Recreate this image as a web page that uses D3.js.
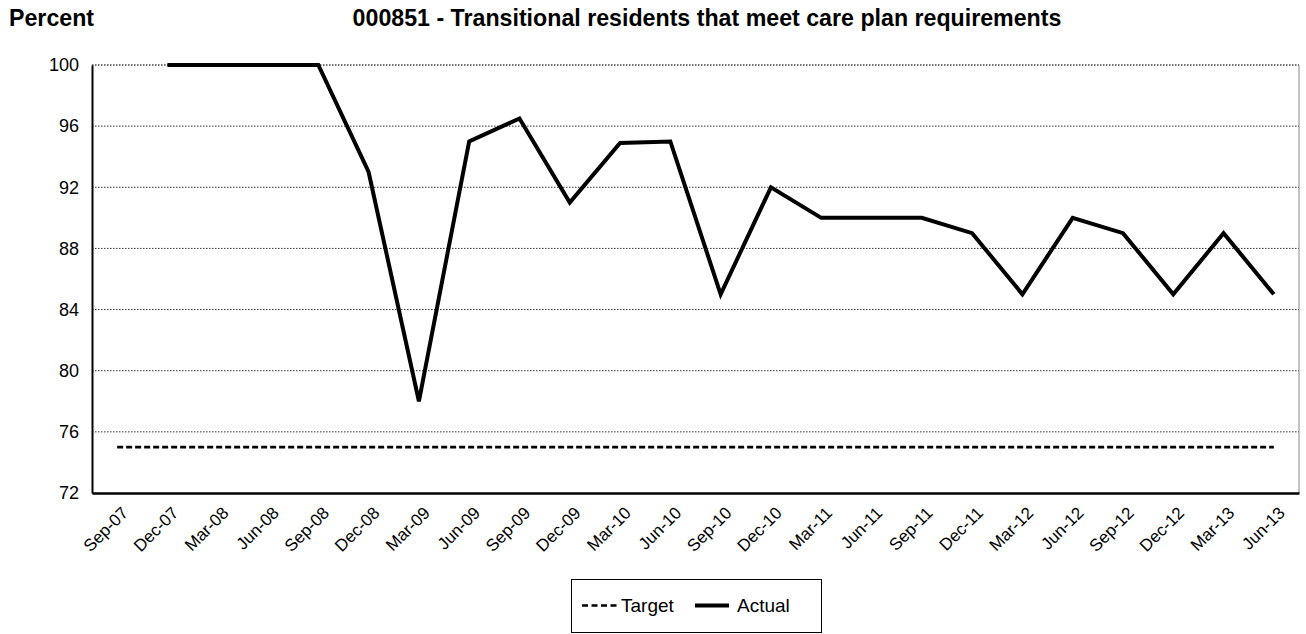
<!DOCTYPE html>
<html>
<head>
<meta charset="utf-8">
<script src="https://cdn.jsdelivr.net/npm/d3@7"></script>
<style>
body{margin:0;background:#fff;}
svg{display:block;font-family:Arial,"Liberation Sans",sans-serif;}
</style>
</head>
<body>
<svg id="chart" width="1306" height="634"></svg>
<script>
const categories = ["Sep-07","Dec-07","Mar-08","Jun-08","Sep-08","Dec-08","Mar-09","Jun-09","Sep-09","Dec-09","Mar-10","Jun-10","Sep-10","Dec-10","Mar-11","Jun-11","Sep-11","Dec-11","Mar-12","Jun-12","Sep-12","Dec-12","Mar-13","Jun-13"];
const actual = [null,100,100,100,100,93,78,95,96.5,91,94.9,95,85,92,90,90,90,89,85,90,89,85,89,85];
const target = [75,75,75,75,75,75,75,75,75,75,75,75,75,75,75,75,75,75,75,75,75,75,75,75];
const yTicks = [72,76,80,84,88,92,96,100];

const FONT = "Arial, 'Liberation Sans', sans-serif";
const svg = d3.select("#chart");
const m = {left:92, right:1299, top:65, bottom:493};

const x = d3.scaleBand().domain(categories).range([m.left, m.right]);
const y = d3.scaleLinear().domain([72,100]).range([m.bottom, m.top]);
const cx = d => x(d) + x.bandwidth()/2;

// gridlines
svg.append("g").selectAll("line").data(yTicks.filter(t=>t>72)).join("line")
  .attr("x1", m.left).attr("x2", m.right)
  .attr("y1", d=>y(d)).attr("y2", d=>y(d))
  .attr("stroke", d=> d===100 ? "#444" : "#333")
  .attr("stroke-width", d=> d===100 ? 1.5 : 1)
  .attr("stroke-dasharray", "1.5,1.5");

// right border
svg.append("line").attr("x1", m.right).attr("x2", m.right).attr("y1", m.top).attr("y2", m.bottom)
  .attr("stroke", "#888").attr("stroke-width", 1);

// y axis
const yAxis = d3.axisLeft(y).tickValues(yTicks).tickSize(0).tickPadding(13).tickFormat(d3.format("d"));
const gy = svg.append("g").attr("transform", `translate(${m.left},0)`).call(yAxis);
gy.select(".domain").attr("stroke","#000").attr("stroke-width",2);
gy.selectAll("text").attr("font-size",18).attr("fill","#000").attr("font-family",FONT);

// x axis
const xAxis = d3.axisBottom(x).tickSize(0).tickPadding(0);
const gx = svg.append("g").attr("transform", `translate(0,${m.bottom})`).call(xAxis);
gx.select(".domain").attr("stroke","#000").attr("stroke-width",2.5);
gx.selectAll("text")
  .attr("font-size",17).attr("fill","#000").attr("font-family",FONT)
  .attr("text-anchor","end").attr("dy",null).attr("y",0)
  .attr("transform","translate(12,21) rotate(-45)");

// target line
const lineT = d3.line().x((d,i)=>cx(categories[i])).y(d=>y(d));
svg.append("path").datum(target).attr("d", lineT)
  .attr("fill","none").attr("stroke","#000").attr("stroke-width",2.7).attr("stroke-dasharray","6,3");

// actual line
const lineA = d3.line().defined(d=>d!==null).x((d,i)=>cx(categories[i])).y(d=>y(d));
svg.append("path").datum(actual).attr("d", lineA)
  .attr("fill","none").attr("stroke","#000").attr("stroke-width",4).attr("stroke-linejoin","miter");

// titles
svg.append("text").attr("x",9).attr("y",26).text("Percent")
  .attr("font-size",23.2).attr("font-weight","bold");
svg.append("text").attr("x",707).attr("y",26).attr("text-anchor","middle")
  .text("000851 - Transitional residents that meet care plan requirements")
  .attr("font-size",23.2).attr("font-weight","bold");

// legend
const lg = svg.append("g");
lg.append("rect").attr("x",571.5).attr("y",579.5).attr("width",250).attr("height",53)
  .attr("fill","#fff").attr("stroke","#000").attr("stroke-width",1);
lg.append("line").attr("x1",582).attr("x2",619).attr("y1",605.5).attr("y2",605.5)
  .attr("stroke","#000").attr("stroke-width",2.5).attr("stroke-dasharray","6,3.5");
lg.append("text").attr("x",621).attr("y",612).text("Target").attr("font-size",19);
lg.append("line").attr("x1",695).attr("x2",729).attr("y1",605.5).attr("y2",605.5)
  .attr("stroke","#000").attr("stroke-width",4);
lg.append("text").attr("x",737).attr("y",612).text("Actual").attr("font-size",19);
</script>
</body>
</html>
